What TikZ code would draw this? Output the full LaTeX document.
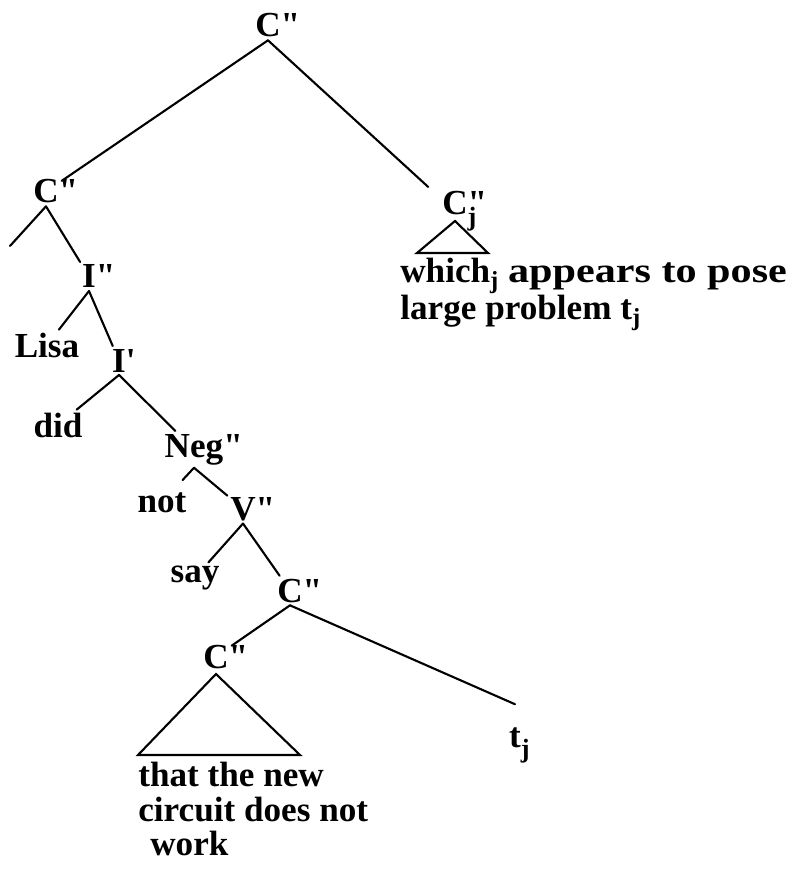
\documentclass[tikz,border=0pt]{standalone}
\usepackage{fontspec}
\setmainfont{Liberation Serif}
\usetikzlibrary{positioning}
\tikzset{
  cat/.style={font=\fontsize{20}{19.5}\selectfont\bfseries, inner sep=1.5pt, anchor=base},
  yield/.style={cat, inner sep=0pt, align=left, anchor=north west},
  br/.style={line width=1.2pt, line cap=round},
}
\newcommand{\dprime}{\rlap{\textquotedbl}}
\newcommand{\idx}[1]{\rlap{\raisebox{-0.3em}{\fontsize{15}{15}\selectfont #1}}}
\newcommand{\Branch}[3][]{\draw[br,#1] (#2.south) -- (#3);}
\newcommand{\Roof}[3]{% {top}{left corner}{right corner}
  \draw[br, line join=miter] ([yshift=-1.2mm]#1.base) -- (#2) -- (#3) -- cycle;}

\begin{document}
\begin{tikzpicture}[x=0.2mm, y=-0.2mm]
  \useasboundingbox (0,0) rectangle (800,879);
  \node[cat] (top) at (268,37) {C\dprime};
  \node[cat] (cl)  at (46,203) {C\dprime};
  \node[cat] (cj)  at (455,215) {C\dprime\idx{j}};
  \coordinate (spec) at (10,246);
  \node[cat] (ipp)  at (89,288)  {I\dprime};
  \node[cat] (lisa) at (47,357)  {Lisa};
  \node[cat] (ip)   at (119,372) {I\rlap{\textquotesingle}};
  \node[cat] (did)  at (58,437)  {did};
  \node[cat] (negp) at (194,457) {Neg\dprime};
  \node[cat] (neg)  at (162,512) {not};
  \node[cat] (vp)   at (243,520) {V\dprime};
  \node[cat] (v)    at (195,582) {say};
  \node[cat] (cp)   at (290,602) {C\dprime};
  \node[cat] (cin)  at (216,668) {C\dprime};
  \node[cat] (tj)   at (515,747) {t\idx{j}};
  % roofs
  \coordinate (cjl) at (417,253);
  \coordinate (cjr) at (488,253);
  \coordinate (cinl) at (138,755);
  \coordinate (cinr) at (300,755);
  \node[yield] (rel) at (400,258)
    {which\textsubscript{j} \scalebox{1.2}[1]{appears to pose}\\ large problem t\textsubscript{j}};
  \node[yield] (that) at (138,762)
    {that the new\\ circuit does not\\ \hspace*{2.4mm}work};
  \Branch{top}{cl}
  \Branch[shorten >=3mm]{top}{cj}
  \Branch{cl}{spec}
  \Branch{cl}{ipp}
  \Branch{ipp}{lisa}
  \Branch{ipp}{ip}
  \Branch{ip}{did}
  \Branch{ip}{negp}
  \Branch[shorten >=2.5mm]{negp}{neg}
  \Branch{negp}{vp}
  \Branch{vp}{v}
  \Branch{vp}{cp}
  \Branch{cp}{cin}
  \draw[br] (cp.south) -- ([yshift=4mm]tj.north);
  \Roof{cj}{cjl}{cjr}
  \Roof{cin}{cinl}{cinr}
\end{tikzpicture}
\end{document}
